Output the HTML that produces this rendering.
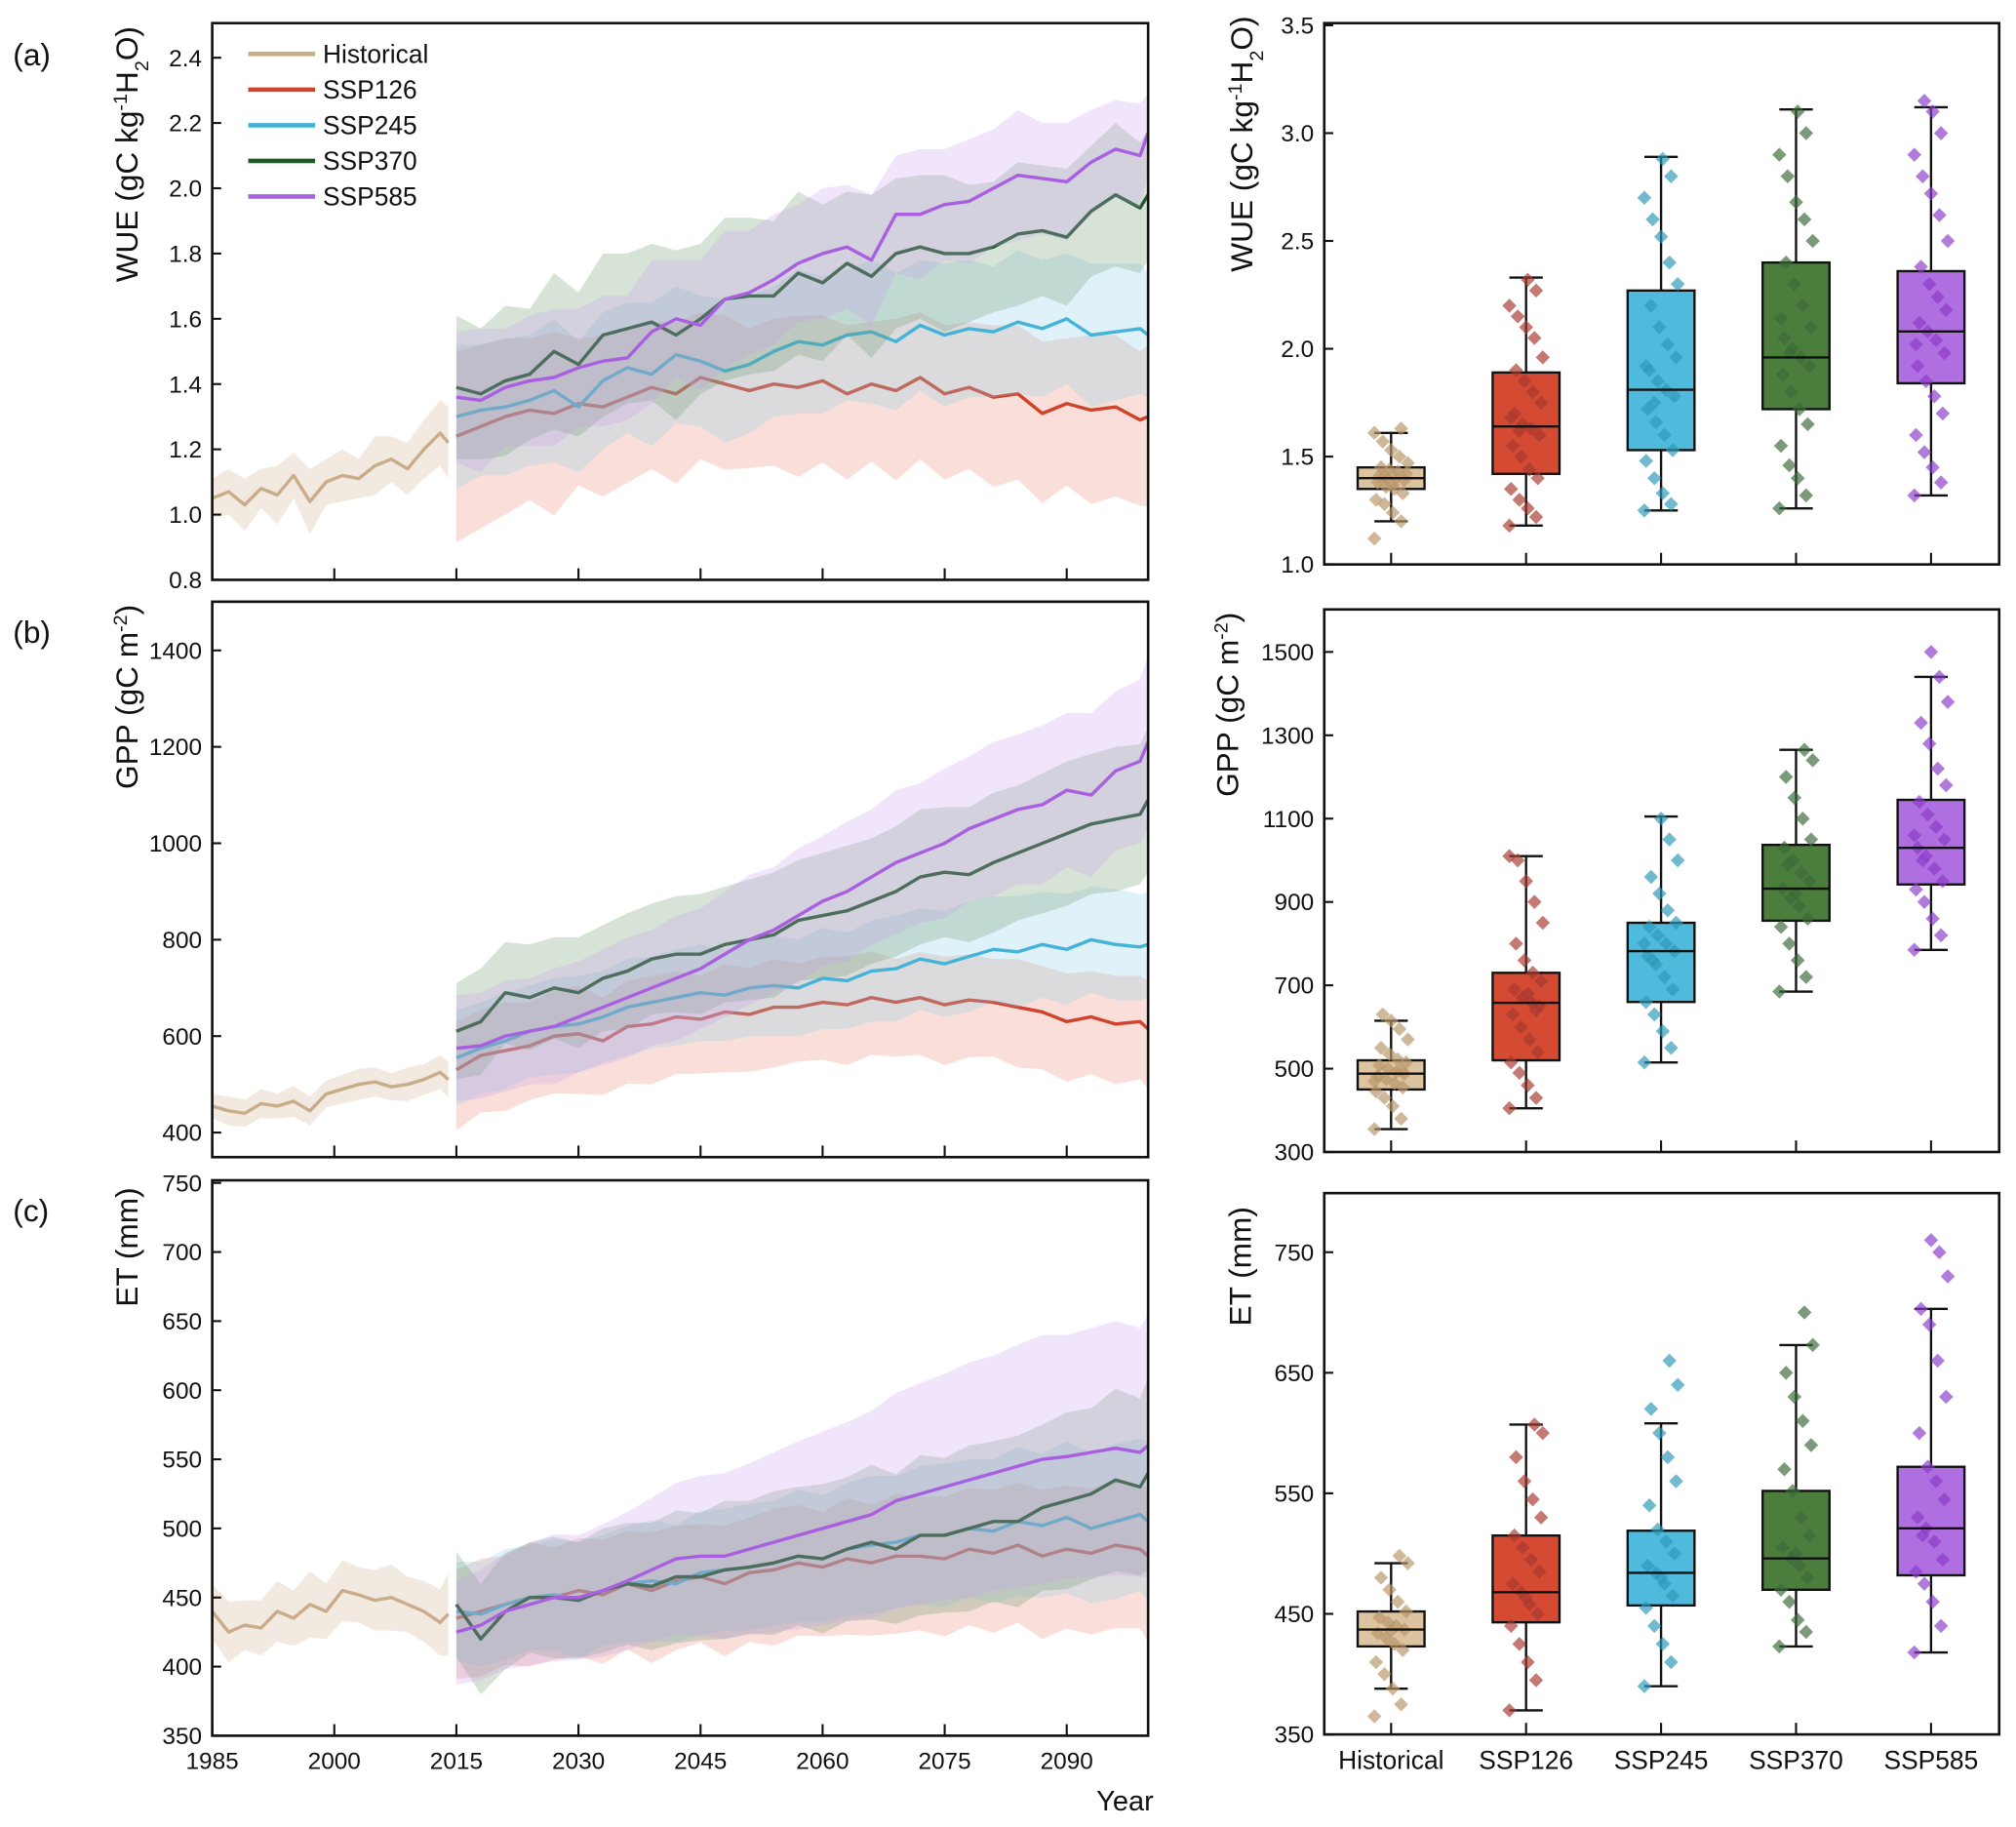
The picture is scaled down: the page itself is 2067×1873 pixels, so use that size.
<!DOCTYPE html>
<html><head><meta charset="utf-8"><style>
html,body{margin:0;padding:0;background:#fff}
svg{display:block}
text{font-family:"Liberation Sans",Arial,sans-serif;fill:#111}
</style></head><body>
<svg id="fig" xmlns="http://www.w3.org/2000/svg" width="2067" height="1873" viewBox="0 0 1568 1421"></svg>
<script>
// ---------- data ----------
const seriesNames = ["Historical","SSP126","SSP245","SSP370","SSP585"];
const histYears = [1985,1987,1989,1991,1993,1995,1997,1999,2001,2003,2005,2007,2009,2011,2013,2014];
const sspYears = [2015,2018,2021,2024,2027,2030,2033,2036,2039,2042,2045,2048,2051,2054,2057,2060,2063,2066,2069,2072,2075,2078,2081,2084,2087,2090,2093,2096,2099,2100];
const xTicks = [1985,2000,2015,2030,2045,2060,2075,2090];

// WUE time series
const wueHist = [1.05,1.07,1.03,1.08,1.06,1.12,1.04,1.1,1.12,1.11,1.15,1.17,1.14,1.2,1.25,1.22];
const wue126 = [1.24,1.27,1.3,1.32,1.31,1.34,1.33,1.36,1.39,1.37,1.42,1.40,1.38,1.40,1.39,1.41,1.37,1.40,1.38,1.42,1.37,1.39,1.36,1.37,1.31,1.34,1.32,1.33,1.29,1.3];
const wue245 = [1.30,1.32,1.33,1.35,1.38,1.33,1.41,1.45,1.43,1.49,1.47,1.44,1.46,1.5,1.53,1.52,1.55,1.56,1.53,1.58,1.55,1.57,1.56,1.59,1.57,1.60,1.55,1.56,1.57,1.55];
const wue370 = [1.39,1.37,1.41,1.43,1.50,1.46,1.55,1.57,1.59,1.55,1.60,1.66,1.67,1.67,1.74,1.71,1.77,1.73,1.80,1.82,1.80,1.80,1.82,1.86,1.87,1.85,1.93,1.98,1.94,1.98];
const wue585 = [1.36,1.35,1.39,1.41,1.42,1.45,1.47,1.48,1.56,1.60,1.58,1.66,1.68,1.72,1.77,1.80,1.82,1.78,1.92,1.92,1.95,1.96,2.00,2.04,2.03,2.02,2.08,2.12,2.10,2.17];
const wueSprHist = [0.06,0.07,0.08,0.06,0.09,0.07,0.1,0.07,0.08,0.06,0.09,0.07,0.08,0.09,0.1,0.11];
const wueSpr126 = [0.26,0.25,0.24,0.22,0.25,0.2,0.22,0.21,0.2,0.22,0.2,0.21,0.19,0.2,0.22,0.2,0.21,0.19,0.22,0.2,0.21,0.2,0.22,0.21,0.22,0.2,0.23,0.22,0.21,0.22];
const wueSpr245 = [0.22,0.2,0.21,0.2,0.22,0.2,0.21,0.2,0.22,0.21,0.2,0.22,0.21,0.2,0.22,0.21,0.2,0.22,0.21,0.2,0.22,0.21,0.2,0.22,0.21,0.2,0.22,0.21,0.2,0.19];
const wueSpr370 = [0.22,0.2,0.23,0.2,0.24,0.22,0.25,0.23,0.24,0.26,0.23,0.25,0.24,0.23,0.25,0.24,0.22,0.25,0.23,0.22,0.24,0.21,0.2,0.22,0.2,0.21,0.2,0.22,0.2,0.2];
const wueSpr585 = [0.2,0.22,0.18,0.2,0.21,0.18,0.2,0.19,0.22,0.18,0.2,0.21,0.19,0.2,0.18,0.2,0.19,0.2,0.18,0.2,0.17,0.19,0.18,0.2,0.17,0.18,0.16,0.15,0.16,0.12];
const wueYTicks = [0.8,1.0,1.2,1.4,1.6,1.8,2.0,2.2,2.4];

// GPP time series
const gppHist = [455,445,440,460,455,465,445,480,490,500,505,495,500,510,525,510];
const gpp126 = [530,560,570,580,600,605,590,620,625,640,635,650,645,660,660,670,665,680,670,680,665,675,670,660,650,630,640,625,630,615];
const gpp245 = [555,575,590,610,620,625,640,660,670,680,690,685,700,705,700,720,715,735,740,760,750,765,780,775,790,780,800,790,785,790];
const gpp370 = [610,630,690,680,700,690,720,735,760,770,770,790,800,810,840,850,860,880,900,930,940,935,960,980,1000,1020,1040,1050,1060,1090];
const gpp585 = [575,580,600,610,620,640,660,680,700,720,740,770,800,820,850,880,900,930,960,980,1000,1030,1050,1070,1080,1110,1100,1150,1170,1210];
const gppSprHist = [25,30,28,30,26,32,30,28,30,32,30,28,35,32,35,38];
const gppSpr126 = [100,95,100,90,95,100,90,95,100,95,90,100,95,100,90,95,100,95,90,95,100,95,90,100,95,100,95,100,95,100];
const gppSpr245 = [100,95,100,95,100,100,95,100,95,100,100,95,100,105,100,105,100,105,110,105,110,115,110,115,110,115,110,115,110,110];
const gppSpr370 = [100,110,105,110,105,115,110,120,115,120,125,120,125,130,125,130,135,130,135,140,135,140,145,140,145,150,145,150,145,150];
const gppSpr585 = [110,110,115,110,120,115,120,125,120,130,125,130,135,130,140,135,145,140,150,145,155,150,160,155,165,160,170,165,170,180];
const gppYTicks = [400,600,800,1000,1200,1400];

// ET time series
const etHist = [440,425,430,428,440,435,445,440,455,452,448,450,445,440,432,438];
const et126 = [435,440,445,450,450,455,452,460,455,462,465,460,468,470,475,472,478,475,480,480,478,485,482,488,480,485,482,488,485,480];
const et245 = [440,438,445,450,452,448,455,460,462,460,468,470,472,475,480,478,485,488,490,495,495,500,498,505,502,508,500,505,510,505];
const et370 = [445,420,440,450,450,448,455,460,458,465,465,470,472,475,480,478,485,490,485,495,495,500,505,505,515,520,525,535,530,540];
const et585 = [425,430,440,445,450,450,455,462,470,478,480,480,485,490,495,500,505,510,520,525,530,535,540,545,550,552,555,558,555,560];
const etSprHist = [20,22,18,20,22,20,24,20,22,20,22,24,20,22,24,30];
const etSpr126 = [35,38,35,40,36,38,40,38,42,40,38,42,40,44,42,40,44,42,45,43,45,44,46,45,48,46,47,48,46,50];
const etSpr245 = [36,38,40,38,40,42,40,42,44,42,45,44,46,45,48,46,48,50,48,50,52,50,52,54,52,55,54,56,55,58];
const etSpr370 = [38,40,42,40,44,42,45,44,46,48,46,50,48,52,50,54,52,56,54,58,56,60,58,62,60,64,62,66,64,70];
const etSpr585 = [38,40,42,44,46,45,48,50,52,55,58,60,62,65,68,70,72,75,78,80,82,85,85,88,90,88,90,92,90,95];
const etYTicks = [350,400,450,500,550,600,650,700,750];

// Box statistics [min, q1, median, q3, max]
const wueBoxStats = [[1.20,1.35,1.40,1.45,1.61],[1.18,1.42,1.64,1.89,2.33],[1.25,1.53,1.81,2.27,2.89],[1.26,1.72,1.96,2.40,3.11],[1.32,1.84,2.08,2.36,3.12]];
const gppBoxStats = [[355,450,488,520,615],[405,520,658,730,1010],[515,660,782,850,1105],[685,855,932,1037,1265],[785,942,1030,1145,1440]];
const etBoxStats = [[388,423,437,452,492],[370,443,468,515,607],[390,457,484,519,608],[423,470,496,552,673],[418,482,521,572,703]];

// Scatter values
const wueScatter = [
 [1.12,1.2,1.24,1.28,1.3,1.33,1.35,1.36,1.38,1.39,1.4,1.4,1.41,1.42,1.43,1.44,1.45,1.47,1.5,1.53,1.57,1.61,1.63,1.37,1.41],
 [1.18,1.22,1.26,1.3,1.35,1.4,1.44,1.5,1.55,1.6,1.63,1.65,1.7,1.75,1.8,1.85,1.9,1.96,2.05,2.1,2.15,2.2,2.27,2.32,1.62,1.68],
 [1.25,1.28,1.33,1.4,1.48,1.53,1.6,1.66,1.72,1.78,1.81,1.85,1.9,1.96,2.02,2.1,2.2,2.3,2.4,2.52,2.6,2.7,2.8,2.88,1.75,1.92],
 [1.26,1.32,1.4,1.46,1.55,1.65,1.72,1.8,1.88,1.92,1.96,2.0,2.05,2.1,2.2,2.3,2.4,2.5,2.6,2.68,2.8,2.9,3.0,3.1,1.98,2.14],
 [1.32,1.38,1.45,1.52,1.6,1.7,1.78,1.85,1.92,1.98,2.04,2.08,2.12,2.18,2.24,2.3,2.38,2.5,2.62,2.72,2.8,2.9,3.0,3.1,3.15,2.02]];
const gppScatter = [
 [355,380,410,430,445,455,465,475,482,488,492,500,508,515,522,535,550,570,595,615,630,470,495],
 [405,430,460,490,515,540,570,600,630,650,660,670,690,710,730,760,800,850,900,950,1000,1010,640,680],
 [515,550,590,630,660,690,720,750,770,782,800,820,840,850,880,920,960,1000,1050,1100,760,800],
 [685,720,760,800,840,860,890,910,932,950,970,1000,1030,1050,1100,1150,1200,1240,1265,920,990],
 [785,820,860,900,930,950,980,1010,1030,1050,1080,1110,1140,1180,1220,1280,1330,1380,1440,1500,1000,1060]];
const etScatter = [
 [365,375,388,400,410,420,425,430,434,437,440,443,447,452,460,470,480,492,498,436],
 [370,395,410,425,440,450,458,468,475,485,495,505,515,530,545,560,580,600,607,463],
 [390,410,425,440,455,465,475,484,490,500,510,520,540,560,580,600,620,640,660,480],
 [423,435,445,460,470,480,490,496,505,515,530,552,570,590,610,630,650,673,700,500],
 [418,440,460,475,485,495,510,521,530,545,560,572,600,630,660,690,703,730,750,760,515]];
const wueBoxTicks = [1.0,1.5,2.0,2.5,3.0,3.5];
const gppBoxTicks = [300,500,700,900,1100,1300,1500];
const etBoxTicks = [350,450,550,650,750];

// ---------- styling ----------
const lineCol = ["#c9ad8a","#d0432b","#45b3d8","#1f5a26","#a960e0"];
const bandCol = ["#d9c3a5","#e98a78","#8fd0ea","#6f9a6e","#c9a0ee"];
const boxFill = ["#dcc4a0","#d44a32","#4fbadb","#4b7d3d","#b06fe0"];
const dotCol = ["#b8956a","#a83a2f","#2e98b8","#3d6a3a","#8a3cc8"];

const NS = "http://www.w3.org/2000/svg";
const svg = document.getElementById("fig");
function mk(tag, attrs, parent){
  const e = document.createElementNS(NS, tag);
  for (const k in attrs) e.setAttribute(k, attrs[k]);
  (parent||svg).appendChild(e);
  return e;
}
function txt(s, x, y, size, anchor, parent){
  const t = mk("text",{x:x,y:y,"font-size":size,"text-anchor":anchor||"middle"},parent);
  t.textContent = s;
  return t;
}

const LX0=165, LX1=893;
const xScale = yr => LX0 + (yr-1985)/(2100-1985)*(LX1-LX0);

function linePanel(o){
  const g = mk("g",{});
  
  
  const ys = v => o.y1 - (v-o.vmin)/(o.vmax-o.vmin)*(o.y1-o.y0);
  const clip = "clip-"+o.name;
  const cp = mk("clipPath",{id:clip},g);
  mk("rect",{x:LX0,y:o.y0,width:LX1-LX0,height:o.y1-o.y0},cp);
  const plot = mk("g",{"clip-path":"url(#"+clip+")"},g);
  for (let s=0;s<5;s++){
    const years = s===0 ? histYears : sspYears;
    const m = o.means[s], sp = o.spreads[s];
    let up = years.map((y,i)=>xScale(y).toFixed(1)+","+ys(m[i]+sp[i]).toFixed(1));
    let lo = years.map((y,i)=>xScale(y).toFixed(1)+","+ys(m[i]-sp[i]*(s===1?1.25:1)).toFixed(1)).reverse();
    const band = mk("polygon",{points:up.concat(lo).join(" "),fill:bandCol[s],"fill-opacity":s===0?0.35:0.28},plot);
    
    
    const pts = years.map((y,i)=>xScale(y).toFixed(1)+","+ys(m[i]).toFixed(1)).join(" ");
    const ln = mk("polyline",{points:pts,fill:"none",stroke:lineCol[s],"stroke-width":2.6,"stroke-linejoin":"round"},plot);
    
    
  }
  mk("rect",{x:LX0,y:o.y0,width:LX1-LX0,height:o.y1-o.y0,fill:"none",stroke:"#111","stroke-width":2},g);
  o.yticks.forEach(v=>{
    const y=ys(v);
    mk("line",{x1:LX0,x2:LX0+7,y1:y,y2:y,stroke:"#111","stroke-width":1.6},g);
    const t = txt(o.fmt(v),157,y+6.5,18.5,"end",g);
    
    
  });
  xTicks.forEach(yr=>{
    const x=xScale(yr);
    mk("line",{x1:x,x2:x,y1:o.y1,y2:o.y1-9,stroke:"#111","stroke-width":1.6},g);
    if (o.xlabels){
      const t = txt(String(yr),x,o.y1+26,18.5,"middle",g);
      
      
    }
  });
  return g;
}

function boxPanel(o){
  const g = mk("g",{});
  
  
  const X0=1030, X1=1555;
  const ys = v => o.y1 - (v-o.vmin)/(o.vmax-o.vmin)*(o.y1-o.y0);
  const cx = i => 1082 + i*105;
  mk("rect",{x:X0,y:o.y0,width:X1-X0,height:o.y1-o.y0,fill:"none",stroke:"#111","stroke-width":2},g);
  o.ticks.forEach(v=>{
    const y=ys(v);
    mk("line",{x1:X0,x2:X0+7,y1:y,y2:y,stroke:"#111","stroke-width":1.6},g);
    const t = txt(o.fmt(v),1022,y+6.5,18.5,"end",g);
    
    
  });
  for (let i=0;i<5;i++){
    const st=o.stats[i], x=cx(i);
    mk("line",{x1:x,x2:x,y1:o.y1,y2:o.y1-9,stroke:"#111","stroke-width":1.6},g);
    mk("line",{x1:x,x2:x,y1:ys(st[0]),y2:ys(st[4]),stroke:"#111","stroke-width":1.8},g);
    mk("line",{x1:x-13,x2:x+13,y1:ys(st[0]),y2:ys(st[0]),stroke:"#111","stroke-width":1.8},g);
    mk("line",{x1:x-13,x2:x+13,y1:ys(st[4]),y2:ys(st[4]),stroke:"#111","stroke-width":1.8},g);
    const b = mk("rect",{x:x-26,y:ys(st[3]),width:52,height:ys(st[1])-ys(st[3]),fill:boxFill[i],stroke:"#111","stroke-width":1.8},g);
    
    
    o.scatter[i].forEach((v,k)=>{
      const dx = (((k*37)%21)-10)*1.3;
      const y = ys(v), xx = x+dx;
      const d = mk("polygon",{points:`${xx},${y-5.5} ${xx+5.5},${y} ${xx},${y+5.5} ${xx-5.5},${y}`,fill:dotCol[i],"fill-opacity":0.68},g);
      
      
    });
    mk("line",{x1:x-26,x2:x+26,y1:ys(st[2]),y2:ys(st[2]),stroke:"#111","stroke-width":1.8},g);
    if (o.xlabels){
      const t = txt(seriesNames[i],x,o.y1+27,20,"middle",g);
      
      
    }
  }
  return g;
}

const f1 = v=>v.toFixed(1), f0 = v=>String(v);
linePanel({name:"wue-timeseries-panel",y0:18,y1:451,vmin:0.8,vmax:2.506,yticks:wueYTicks,fmt:f1,
  means:[wueHist,wue126,wue245,wue370,wue585],spreads:[wueSprHist,wueSpr126,wueSpr245,wueSpr370,wueSpr585]});
linePanel({name:"gpp-timeseries-panel",y0:468,y1:900,vmin:349,vmax:1501,yticks:gppYTicks,fmt:f0,
  means:[gppHist,gpp126,gpp245,gpp370,gpp585],spreads:[gppSprHist,gppSpr126,gppSpr245,gppSpr370,gppSpr585]});
linePanel({name:"et-timeseries-panel",y0:918,y1:1350,vmin:350,vmax:751.9,yticks:etYTicks,fmt:f0,xlabels:true,
  means:[etHist,et126,et245,et370,et585],spreads:[etSprHist,etSpr126,etSpr245,etSpr370,etSpr585]});
boxPanel({name:"wue-box-panel",y0:18,y1:439,vmin:1.0,vmax:3.51,ticks:wueBoxTicks,fmt:f1,stats:wueBoxStats,scatter:wueScatter});
boxPanel({name:"gpp-box-panel",y0:474,y1:896,vmin:300,vmax:1602,ticks:gppBoxTicks,fmt:f0,stats:gppBoxStats,scatter:gppScatter});
boxPanel({name:"et-box-panel",y0:928,y1:1349,vmin:350,vmax:799,ticks:etBoxTicks,fmt:f0,stats:etBoxStats,scatter:etScatter,xlabels:true});

// legend
const leg = mk("g",{});


for (let s=0;s<5;s++){
  const y = 42 + s*27.7;
  mk("line",{x1:193,x2:245,y1:y,y2:y,stroke:lineCol[s],"stroke-width":3.5},leg);
  const t = txt(seriesNames[s],251,y+7,20,"start",leg);
  
  
}

// panel labels
[["(a)",42],["(b)",491],["(c)",941]].forEach(p=>{
  const t = txt(p[0],10,p[1]+9,24,"start");
  
  
});
const yr = txt("Year",875,1408,22,"middle");



// axis titles
function ytitle(x, y, parts, name){
  const t = mk("text",{transform:`translate(${x},${y}) rotate(-90)`,"font-size":24,"text-anchor":"middle"});
  
  
  parts.forEach(p=>{
    const ts = mk("tspan",{},t);
    if (p[1]==="sup"){ ts.setAttribute("baseline-shift","super"); ts.setAttribute("font-size",15); }
    if (p[1]==="sub"){ ts.setAttribute("baseline-shift","sub"); ts.setAttribute("font-size",15); }
    ts.textContent = p[0];
  });
}
const wueParts = [["WUE (gC kg"],["-1","sup"],["H"],["2","sub"],["O)"]];
const gppParts = [["GPP (gC m"],["-2","sup"],[")"]];
ytitle(107,120,wueParts,"y-axis-title-wue");
ytitle(107,542,gppParts,"y-axis-title-gpp");
ytitle(107,970,[["ET (mm)"]],"y-axis-title-et");
ytitle(974,112,wueParts,"y-axis-title-wue-box");
ytitle(963,548,gppParts,"y-axis-title-gpp-box");
ytitle(973,985,[["ET (mm)"]],"y-axis-title-et-box");
</script>
</body></html>
